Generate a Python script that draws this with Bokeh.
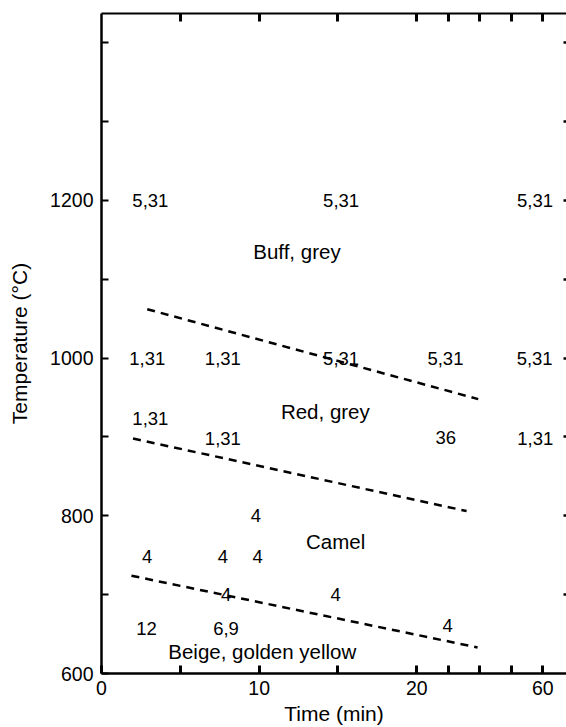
import numpy as np
from bokeh.plotting import figure
from bokeh.models import Range1d, FixedTicker, LinearAxis
from bokeh.embed import file_html
from bokeh.resources import INLINE
from bokeh.core.properties import value

# ---- broken time axis: linear up to 20 min, then 10 min per 2 axis units ----
BREAK_MIN = 20.0
COMPRESS = 5.0


def axis_pos(t):
    t = np.asarray(t, dtype=float)
    return np.where(t <= BREAK_MIN, t, BREAK_MIN + (t - BREAK_MIN) / COMPRESS)


time_major = [0, 10, 20, 60]
time_labels = ["0", "10", "20", "60"]
time_minor = [5, 15, 30, 40, 50]
temp_major = [600, 800, 1000, 1200]
temp_labels = ["600", "800", "1000", "1200"]
temp_minor = [700, 900, 1100, 1300, 1400]
right_ticks = [700, 800, 900, 1000, 1100, 1200, 1300, 1400]

time_end = 67.5
temp_start, temp_end = 600, 1437

# ---- boundary (dashed) lines: time (min), temperature (degC) ----
buff_red_time = [2.9, 39.5]
buff_red_temp = [1062, 948]
red_camel_time = [2.0, 35.8]
red_camel_temp = [898, 806]
camel_beige_time = [1.9, 39.3]
camel_beige_temp = [724, 633]

# ---- reference numbers written at experiment points ----
ref_text = ["5,31", "5,31", "5,31",
            "1,31", "1,31", "5,31", "5,31", "5,31",
            "1,31", "1,31", "36", "1,31",
            "4", "4", "4", "4",
            "4", "4", "12", "6,9", "4"]
ref_time = [3.1, 15.2, 57.5,
            2.9, 7.7, 15.2, 29.1, 57.4,
            3.1, 7.7, 29.2, 57.6,
            9.8, 2.9, 7.7, 9.9,
            7.9, 14.85, 2.86, 7.9, 29.8]
ref_temp = [1200, 1200, 1200,
            1000, 1000, 1000, 1000, 1000,
            923, 898, 899, 898,
            800, 749, 749, 749,
            700, 700, 657, 657, 661]

# ---- colour region names ----
region_text = ["Buff, grey", "Red, grey", "Camel", "Beige, golden yellow"]
region_time = [12.4, 14.2, 14.85, 10.2]
region_temp = [1135, 932, 768, 628]

FONT = "Liberation Sans"

p = figure(width=566, height=727, output_backend="svg", toolbar_location=None,
           x_range=Range1d(float(axis_pos(0)), float(axis_pos(time_end))),
           y_range=Range1d(temp_start, temp_end),
           min_border_left=101, min_border_right=0, min_border_top=13, min_border_bottom=51,
           background_fill_color="white", border_fill_color="white")
p.outline_line_color = None
p.xgrid.visible = False
p.ygrid.visible = False

x_major = [float(v) for v in axis_pos(time_major)]
x_minor = [float(v) for v in axis_pos(time_minor)]

# bottom axis
xa = p.xaxis[0]
xa.ticker = FixedTicker(ticks=x_major, minor_ticks=x_minor)
xa.major_label_overrides = dict(zip(x_major, time_labels))
xa.axis_label = "Time (min)"
xa.axis_line_width = 2.5
xa.axis_line_color = "black"
xa.major_tick_in = 8
xa.major_tick_out = 0
xa.major_tick_line_width = 3
xa.major_tick_line_color = "black"
xa.minor_tick_in = 8
xa.minor_tick_out = 0
xa.minor_tick_line_width = 3
xa.minor_tick_line_color = "black"
xa.major_label_standoff = 7
xa.axis_label_standoff = 4
xa.major_label_text_font = FONT
xa.major_label_text_font_size = "19.5px"
xa.major_label_text_color = "black"
xa.axis_label_text_font = FONT
xa.axis_label_text_font_size = "21px"
xa.axis_label_text_font_style = "normal"
xa.axis_label_text_color = "black"

# left axis
ya = p.yaxis[0]
ya.ticker = FixedTicker(ticks=temp_major, minor_ticks=temp_minor)
ya.major_label_overrides = dict(zip(temp_major, temp_labels))
ya.axis_label = "Temperature (°C)"
ya.axis_line_width = 2.5
ya.axis_line_color = "black"
ya.major_tick_in = 7
ya.major_tick_out = 0
ya.major_tick_line_width = 2
ya.major_tick_line_color = "black"
ya.minor_tick_in = 7
ya.minor_tick_out = 0
ya.minor_tick_line_width = 2
ya.minor_tick_line_color = "black"
ya.major_label_standoff = 8
ya.axis_label_standoff = 16
ya.major_label_text_font = FONT
ya.major_label_text_font_size = "19.5px"
ya.major_label_text_color = "black"
ya.axis_label_text_font = FONT
ya.axis_label_text_font_size = "21px"
ya.axis_label_text_font_style = "normal"
ya.axis_label_text_color = "black"

# top axis (ticks only, no labels)
top = LinearAxis(ticker=FixedTicker(ticks=[], minor_ticks=[float(v) for v in axis_pos(time_major[1:] + time_minor)]),
                 axis_line_width=2, axis_line_color="black",
                 major_tick_line_color=None,
                 minor_tick_in=8, minor_tick_out=0, minor_tick_line_width=3,
                 minor_tick_line_color="black", major_label_standoff=0)
p.add_layout(top, "above")

# right axis (short inward ticks only, line off the page)
right = LinearAxis(ticker=FixedTicker(ticks=[], minor_ticks=right_ticks), axis_line_color=None,
                   major_tick_line_color=None,
                   minor_tick_in=3, minor_tick_out=0, minor_tick_line_width=2.5,
                   minor_tick_line_color="black", major_label_standoff=0)
p.add_layout(right, "right")

for tt, TT in [(buff_red_time, buff_red_temp),
               (red_camel_time, red_camel_temp),
               (camel_beige_time, camel_beige_temp)]:
    p.line(axis_pos(tt), TT, line_dash="8 6", line_width=2.5, line_color="black")

p.text(x=axis_pos(ref_time), y=ref_temp, text=ref_text,
       text_font=value(FONT), text_font_size="18.5px", text_color="black",
       text_align="center", text_baseline="middle")
p.text(x=axis_pos(region_time), y=region_temp, text=region_text,
       text_font=value(FONT), text_font_size="20.5px", text_color="black",
       text_align="center", text_baseline="middle")

open("out.html", "w").write(file_html(p, INLINE))
